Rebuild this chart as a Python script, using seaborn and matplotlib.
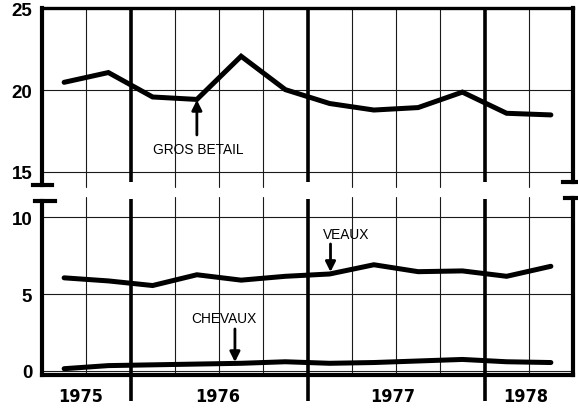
import numpy as np
import pandas as pd
import matplotlib
matplotlib.use("Agg")
import matplotlib.pyplot as plt
import seaborn as sns
from matplotlib import font_manager

# ---- data ----
periods = [1975.625, 1975.875, 1976.125, 1976.375, 1976.625, 1976.875,
           1977.125, 1977.375, 1977.625, 1977.875, 1978.125, 1978.375]
gros_betail = [20.5, 21.1, 19.6, 19.45, 22.1, 20.05, 19.2, 18.8, 18.95, 19.9, 18.6, 18.5]
veaux = [6.05, 5.85, 5.55, 6.25, 5.9, 6.15, 6.3, 6.9, 6.45, 6.5, 6.15, 6.8]
chevaux = [0.15, 0.35, 0.4, 0.45, 0.5, 0.6, 0.5, 0.55, 0.65, 0.75, 0.6, 0.55]
year_labels = ["1975", "1976", "1977", "1978"]
year_label_pos = [1975.72, 1976.49, 1977.48, 1978.23]
top_yticks = [15, 20, 25]
bottom_yticks = [0, 5, 10]
quarter_lines = [1975.75, 1976.25, 1976.5, 1976.75, 1977.25, 1977.5, 1977.75, 1978.25]
year_lines = [1976.0, 1977.0, 1978.0]

df = pd.DataFrame({"periode": periods, "GROS BETAIL": gros_betail,
                   "VEAUX": veaux, "CHEVAUX": chevaux})

sns.set_theme(style="white")
plt.rcParams["font.family"] = ["Liberation Sans", "DejaVu Sans"]

# look for a condensed bold face for the year labels
cond_file = None
files = [f.fname for f in font_manager.fontManager.ttflist]
for key in ("LiberationSansNarrow-Bold.", "DejaVuSansCondensed-Bold.", "NotoSans-CondensedBold", "Roboto_Condensed-Bold", "RobotoCondensed-Bold"):
    for fn in files:
        if key in fn.split("/")[-1]:
            cond_file = fn
            break
    if cond_file:
        break
if cond_file:
    year_fp = font_manager.FontProperties(fname=cond_file, size=15 if "Narrow" in cond_file else 13)
else:
    year_fp = font_manager.FontProperties(family=["Liberation Sans", "DejaVu Sans"], weight="bold", size=13.5)

W, H = 578, 410
fig = plt.figure(figsize=(W / 100, H / 100), dpi=100)
fig.patch.set_facecolor("white")

L, R = 42, 573
ax_top = fig.add_axes([L / W, 1 - 186 / H, (R - L) / W, 177 / H])
ax_bot = fig.add_axes([L / W, 1 - 376 / H, (R - L) / W, 174 / H])

LINE_KW = dict(color="black", linewidth=3.6, solid_capstyle="round", solid_joinstyle="miter")
sns.lineplot(data=df, x="periode", y="GROS BETAIL", ax=ax_top, **LINE_KW)
sns.lineplot(data=df, x="periode", y="VEAUX", ax=ax_bot, **LINE_KW)
sns.lineplot(data=df, x="periode", y="CHEVAUX", ax=ax_bot, **LINE_KW)

for ax in (ax_top, ax_bot):
    ax.set_xlim(1975.5, 1978.5)
    ax.set_xlabel("")
    ax.set_ylabel("")
    for s in ax.spines.values():
        s.set_visible(False)
    ax.set_facecolor("white")

ax_top.set_ylim(14.2, 25.06)
ax_bot.set_ylim(-0.26, 11.04)

# grid lines
thin = dict(color="#1a1a1a", linewidth=0.8, zorder=1)
for ax, lo, hi in ((ax_top, -0.012, 1.0), (ax_bot, 0.0, 1.025)):
    for q in quarter_lines:
        ax.axvline(q, ymin=lo, ymax=hi, clip_on=False, **thin)
for yv in (15, 20):
    ax_top.axhline(yv, **thin)
for yv in (0, 5, 10):
    ax_bot.axhline(yv, **thin)
thick = dict(color="black", linewidth=2.6, zorder=2, solid_capstyle="butt")
for yl in year_lines:
    ax_top.axvline(yl, ymin=0.017, ymax=1.0, clip_on=False, **thick)
    ax_bot.axvline(yl, ymin=-0.149, ymax=1.011, clip_on=False, **thick)

# frame drawn by hand (broken axis)
fr = dict(color="black", linewidth=3.0, clip_on=False, solid_capstyle="projecting", zorder=5)
ta = ax_top.transAxes
ax_top.plot([0, 1], [1, 1], transform=ta, **{**fr, "linewidth": 2.4})
ax_top.plot([0, 0], [1, 0], transform=ta, **fr)
ax_top.plot([-0.017, 0.019], [0, 0], transform=ta, **fr)
ax_top.plot([1, 1], [1, 0.017], transform=ta, **fr)
ax_top.plot([0.981, 1.01], [0.017, 0.017], transform=ta, **fr)
ba = ax_bot.transAxes
ax_bot.plot([0, 0], [1, 0], transform=ba, **fr)
ax_bot.plot([0, 1], [0, 0], transform=ba, **fr)
ax_bot.plot([1, 1], [0, 1.02], transform=ba, **fr)
ax_bot.plot([-0.013, 0.024], [1, 1], transform=ba, **fr)
ax_bot.plot([0.985, 1.01], [1.02, 1.02], transform=ba, **fr)

# ticks
tickfont = dict(family=["Liberation Sans", "DejaVu Sans"], weight="bold", size=13.5)
ax_top.set_yticks(top_yticks)
ax_top.set_yticklabels([str(v) for v in top_yticks], fontdict=tickfont)
ax_bot.set_yticks(bottom_yticks)
ax_bot.set_yticklabels([str(v) for v in bottom_yticks], fontdict=tickfont)
ax_top.set_xticks([])
ax_bot.set_xticks(year_label_pos)
ax_bot.set_xticklabels(year_labels)
for t in ax_bot.get_xticklabels():
    t.set_fontproperties(year_fp)
for ax in (ax_top, ax_bot):
    ax.tick_params(axis="both", length=0, colors="black")
    ax.tick_params(axis="y", pad=7)
ax_bot.tick_params(axis="x", pad=9)

# annotations
lab = dict(family=["Liberation Sans", "DejaVu Sans"], size=9.9, color="black",
           ha="center", va="center")
arr = dict(arrowstyle="-|>", color="black", lw=2.0, mutation_scale=15,
           shrinkA=0, shrinkB=0)
ax_top.annotate("", xy=(1976.375, 19.42), xytext=(1976.375, 17.27), arrowprops=arr)
ax_top.text(1976.385, 16.41, "GROS BETAIL", **lab)
ax_bot.annotate("", xy=(1977.13, 6.43), xytext=(1977.13, 8.25), arrowprops=arr)
ax_bot.text(1977.22, 8.9, "VEAUX", **lab)
ax_bot.annotate("", xy=(1976.59, 0.58), xytext=(1976.59, 2.73), arrowprops=arr)
ax_bot.text(1976.53, 3.44, "CHEVAUX", **lab)

fig.savefig("out.png", dpi=100, facecolor="white")
